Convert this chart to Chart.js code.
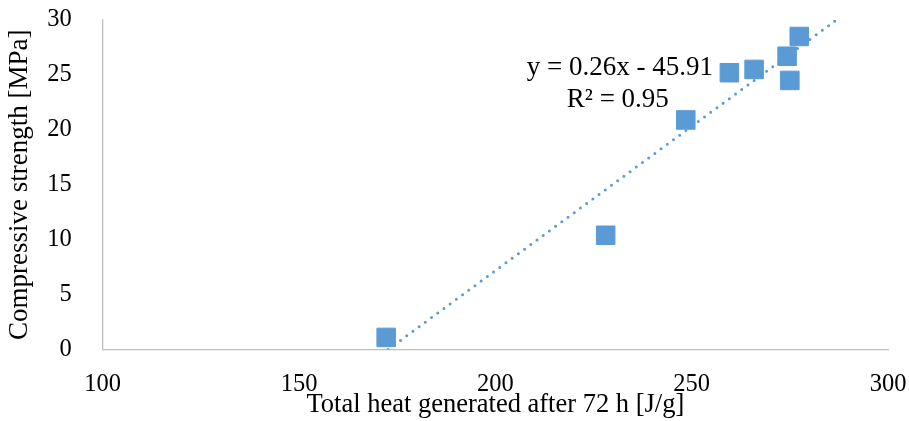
<!DOCTYPE html>
<html>
<head>
<meta charset="utf-8">
<script src="https://cdn.jsdelivr.net/npm/chart.js@4"></script>
<style>
  html, body { margin: 0; padding: 0; background: #fff; }
  #wrap { width: 909px; height: 421px; }
</style>
</head>
<body>
<div id="wrap"><canvas id="heatChart" width="909" height="421"></canvas></div>
<script>
"use strict";
// heat after 72 h [J/g] vs compressive strength [MPa]
const heatValues = [172.2, 228.1, 248.5, 259.6, 265.9, 274.3, 275.0, 277.4];
const strengthValues = [1.1, 10.4, 20.9, 25.2, 25.5, 26.7, 24.5, 28.5];
const xTicks = [100, 150, 200, 250, 300];
const yTicks = [0, 5, 10, 15, 20, 25, 30];
const equationLines = ['y = 0.26x - 45.91', 'R\u00b2 = 0.95'];

const blue = '#5B9BD5';
const serif = "'Liberation Serif', 'Times New Roman', serif";

// least squares fit for the dotted trendline
function linearFit(xs, ys) {
    const n = xs.length;
    const mx = xs.reduce((a, b) => a + b, 0) / n;
    const my = ys.reduce((a, b) => a + b, 0) / n;
    let sxy = 0, sxx = 0;
    for (let i = 0; i < n; i++) {
        sxy += (xs[i] - mx) * (ys[i] - my);
        sxx += (xs[i] - mx) * (xs[i] - mx);
    }
    const slope = sxy / sxx;
    return { slope: slope, intercept: my - slope * mx };
}
const fit = linearFit(heatValues, strengthValues);
const yMin = yTicks[0];
const yMax = yTicks[yTicks.length - 1];
const trendPoints = [
    { x: (yMin - fit.intercept) / fit.slope, y: yMin },
    { x: (yMax - fit.intercept) / fit.slope, y: yMax }
];

const points = heatValues.map((x, i) => ({ x: x, y: strengthValues[i] }));

const equationLabel = {
    id: 'equationLabel',
    afterDatasetsDraw(chart) {
        const ctx = chart.ctx;
        const xs = chart.scales.x;
        const ys = chart.scales.y;
        const cx = xs.getPixelForValue(231.7);
        ctx.save();
        ctx.font = '27px ' + serif;
        ctx.fillStyle = '#000';
        ctx.textAlign = 'center';
        ctx.textBaseline = 'middle';
        ctx.fillText(equationLines[0], cx, ys.getPixelForValue(25.6));
        ctx.fillText(equationLines[1], cx - 2, ys.getPixelForValue(22.75));
        ctx.restore();
    }
};

// @ts-ignore
new Chart(document.getElementById('heatChart'), {
    type: 'scatter',
    data: {
        datasets: [
            {
                label: 'Trendline',
                type: 'line',
                data: trendPoints,
                borderColor: blue,
                borderWidth: 3,
                borderDash: [0, 7.7],
                borderCapStyle: 'round',
                pointRadius: 0,
                fill: false,
                order: 0
            },
            {
                label: 'Samples',
                data: points,
                pointStyle: 'rect',
                pointRadius: 13.1,
                backgroundColor: blue,
                borderColor: blue,
                borderWidth: 1,
                order: 1
            }
        ]
    },
    options: {
        responsive: false,
        animation: false,
        layout: { padding: { top: 20, right: 21, left: 0, bottom: 0 } },
        plugins: {
            legend: { display: false },
            tooltip: { enabled: false }
        },
        scales: {
            x: {
                type: 'linear',
                min: xTicks[0],
                max: xTicks[xTicks.length - 1],
                afterBuildTicks: (scale) => { scale.ticks = xTicks.map(v => ({ value: v })); },
                afterFit: (scale) => { scale.height = 71.5; },
                // tick marks are hidden, tickLength only spaces the labels
                grid: { display: false, drawTicks: true, tickLength: 20 },
                border: { display: true, color: '#BFBFBF', width: 1.3 },
                ticks: { color: '#000', padding: 0, font: { family: serif, size: 24.5 } },
                title: {
                    display: true,
                    text: 'Total heat generated after 72 h [J/g]',
                    color: '#000',
                    padding: { top: 0, bottom: 0 },
                    font: { family: serif, size: 26.5 }
                }
            },
            y: {
                type: 'linear',
                min: yMin,
                max: yMax,
                afterBuildTicks: (scale) => { scale.ticks = yTicks.map(v => ({ value: v })); },
                afterFit: (scale) => { scale.width = 102.7; },
                grid: { display: false, drawTicks: true, tickLength: 31 },
                border: { display: true, color: '#BFBFBF', width: 1.3 },
                ticks: { color: '#000', padding: 0, font: { family: serif, size: 24.5 } },
                title: {
                    display: true,
                    text: 'Compressive strength [MPa]',
                    color: '#000',
                    padding: { top: 4, bottom: 0 },
                    font: { family: serif, size: 27 }
                }
            }
        }
    },
    plugins: [equationLabel]
});
</script>
</body>
</html>
